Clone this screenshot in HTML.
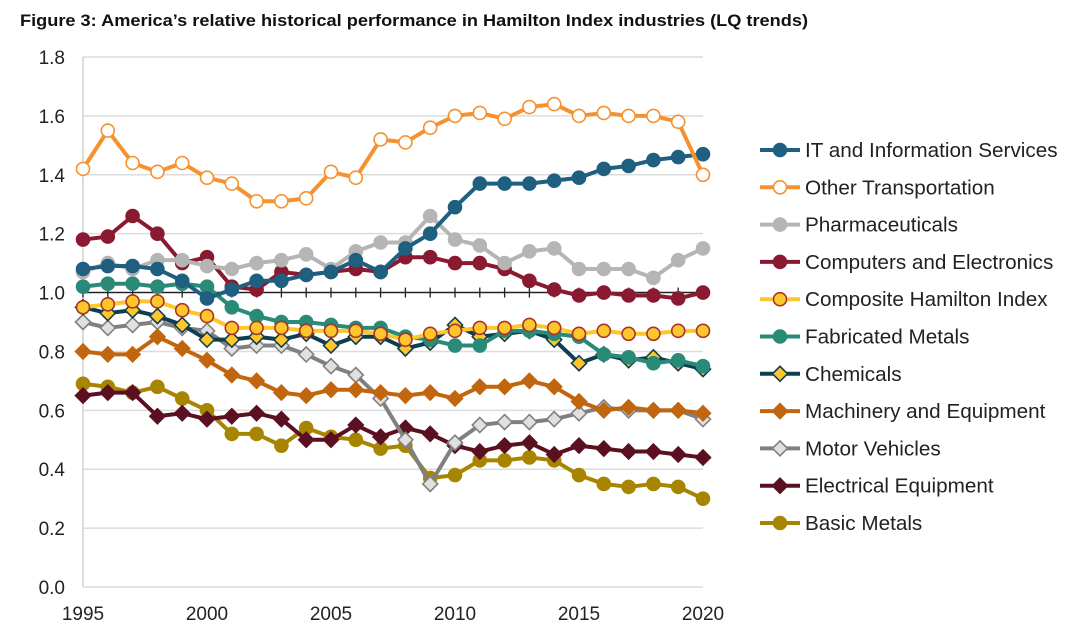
<!DOCTYPE html>
<html><head><meta charset="utf-8"><style>
html,body{margin:0;padding:0;background:#fff;width:1080px;height:632px;overflow:hidden}
svg{display:block;font-family:"Liberation Sans",sans-serif}
</style></head><body>
<svg id="chart" width="1080" height="632">
<text x="20" y="26" font-family="'Liberation Sans Narrow','Liberation Sans',sans-serif" font-weight="bold" font-size="17" textLength="788" lengthAdjust="spacingAndGlyphs" fill="#111">Figure 3: America’s relative historical performance in Hamilton Index industries (LQ trends)</text>
<g id="grid"></g><g id="axes"></g><g id="series"></g><g id="legend"></g>
</svg>
<script>
const years=[1995,1996,1997,1998,1999,2000,2001,2002,2003,2004,2005,2006,2007,2008,2009,2010,2011,2012,2013,2014,2015,2016,2017,2018,2019,2020];
const yTicks=[0,0.2,0.4,0.6,0.8,1.0,1.2,1.4,1.6,1.8];
const xTickLabels=[1995,2000,2005,2010,2015,2020];
const seriesNames=["IT and Information Services","Other Transportation","Pharmaceuticals","Computers and Electronics","Composite Hamilton Index","Fabricated Metals","Chemicals","Machinery and Equipment","Motor Vehicles","Electrical Equipment","Basic Metals"];
const itInfo=[1.08,1.09,1.09,1.08,1.04,0.98,1.01,1.04,1.04,1.06,1.07,1.11,1.07,1.15,1.20,1.29,1.37,1.37,1.37,1.38,1.39,1.42,1.43,1.45,1.46,1.47];
const otherTransport=[1.42,1.55,1.44,1.41,1.44,1.39,1.37,1.31,1.31,1.32,1.41,1.39,1.52,1.51,1.56,1.60,1.61,1.59,1.63,1.64,1.60,1.61,1.60,1.60,1.58,1.40];
const pharma=[1.07,1.10,1.08,1.11,1.11,1.09,1.08,1.10,1.11,1.13,1.08,1.14,1.17,1.17,1.26,1.18,1.16,1.10,1.14,1.15,1.08,1.08,1.08,1.05,1.11,1.15];
const computers=[1.18,1.19,1.26,1.20,1.10,1.12,1.02,1.01,1.07,1.06,1.07,1.08,1.07,1.12,1.12,1.10,1.10,1.08,1.04,1.01,0.99,1.00,0.99,0.99,0.98,1.00];
const composite=[0.95,0.96,0.97,0.97,0.94,0.92,0.88,0.88,0.88,0.87,0.87,0.87,0.86,0.84,0.86,0.87,0.88,0.88,0.89,0.88,0.86,0.87,0.86,0.86,0.87,0.87];
const fabricated=[1.02,1.03,1.03,1.02,1.03,1.02,0.95,0.92,0.90,0.90,0.89,0.88,0.88,0.85,0.84,0.82,0.82,0.87,0.87,0.86,0.85,0.79,0.78,0.76,0.77,0.75];
const chemicals=[0.95,0.93,0.94,0.92,0.89,0.84,0.84,0.85,0.84,0.86,0.82,0.85,0.85,0.81,0.83,0.89,0.85,0.86,0.87,0.84,0.76,0.79,0.77,0.78,0.76,0.74];
const machinery=[0.80,0.79,0.79,0.85,0.81,0.77,0.72,0.70,0.66,0.65,0.67,0.67,0.66,0.65,0.66,0.64,0.68,0.68,0.70,0.68,0.63,0.60,0.61,0.60,0.60,0.59];
const motorVehicles=[0.90,0.88,0.89,0.90,0.88,0.87,0.81,0.82,0.82,0.79,0.75,0.72,0.64,0.50,0.35,0.49,0.55,0.56,0.56,0.57,0.59,0.61,0.60,0.60,0.60,0.57];
const electrical=[0.65,0.66,0.66,0.58,0.59,0.57,0.58,0.59,0.57,0.50,0.50,0.55,0.51,0.54,0.52,0.48,0.46,0.48,0.49,0.45,0.48,0.47,0.46,0.46,0.45,0.44];
const basicMetals=[0.69,0.68,0.66,0.68,0.64,0.60,0.52,0.52,0.48,0.54,0.51,0.50,0.47,0.48,0.37,0.38,0.43,0.43,0.44,0.43,0.38,0.35,0.34,0.35,0.34,0.30];

const NS="http://www.w3.org/2000/svg";
const X0=83,X1=703,Y0=587,Y1=57;
const xs=y=>X0+(y-1995)*(X1-X0)/25;
const ys=v=>Y0-v*(Y0-Y1)/1.8;
function mk(tag,attrs,parent){const e=document.createElementNS(NS,tag);for(const k in attrs)e.setAttribute(k,attrs[k]);parent.appendChild(e);return e;}
const grid=document.getElementById('grid'),axes=document.getElementById('axes'),ser=document.getElementById('series'),leg=document.getElementById('legend');

yTicks.forEach(t=>{
  if(t!==1.0&&t!==0){const g=mk('line',{x1:X0,x2:X1,y1:ys(t),y2:ys(t),stroke:'#dcdcdc','stroke-width':1.5},grid);
  
  }
  const l=mk('text',{x:65,y:ys(t)+7,'text-anchor':'end','font-size':19,fill:'#222'},axes);l.textContent=t.toFixed(1);
  
  
});
const bl=mk('line',{x1:X0,x2:X1,y1:Y0,y2:Y0,stroke:'#dcdcdc','stroke-width':1.5},grid);


const va=mk('line',{x1:X0,x2:X0,y1:Y1,y2:Y0,stroke:'#d0d0d0','stroke-width':1.5},grid);


const xa=mk('line',{x1:X0,x2:X1,y1:ys(1.0),y2:ys(1.0),stroke:'#222','stroke-width':1.5},axes);


years.forEach(y=>{const t=mk('line',{x1:xs(y),x2:xs(y),y1:ys(1.0)-5,y2:ys(1.0)+5,stroke:'#222','stroke-width':1.3},axes);
  
  });
xTickLabels.forEach(y=>{const l=mk('text',{x:xs(y),y:620,'text-anchor':'middle','font-size':19,fill:'#222'},axes);l.textContent=y;
  
  });

const styles=[
 {d:itInfo,c:'#1f5f80',m:'circle',f:'#1f5f80',s:'#1f5f80'},
 {d:otherTransport,c:'#f5922f',m:'circle',f:'#fff',s:'#f5922f'},
 {d:pharma,c:'#b5b5b5',m:'circle',f:'#b5b5b5',s:'#b5b5b5'},
 {d:computers,c:'#8a1a31',m:'circle',f:'#8a1a31',s:'#8a1a31'},
 {d:composite,c:'#fdc72c',m:'circle',f:'#fdc72c',s:'#a6342a'},
 {d:fabricated,c:'#2a8a78',m:'circle',f:'#2a8a78',s:'#2a8a78'},
 {d:chemicals,c:'#0f3e50',m:'diamond',f:'#fdc72c',s:'#0f3e50'},
 {d:machinery,c:'#c1650f',m:'diamond',f:'#c1650f',s:'#c1650f'},
 {d:motorVehicles,c:'#808080',m:'diamond',f:'#e0e0e0',s:'#808080'},
 {d:electrical,c:'#5a1020',m:'diamond',f:'#5a1020',s:'#5a1020'},
 {d:basicMetals,c:'#a88500',m:'circle',f:'#a88500',s:'#a88500'}
];
function marker(x,y,st,parent){
  if(st.m==='circle'){return mk('circle',{cx:x,cy:y,r:6.5,fill:st.f,stroke:st.s,'stroke-width':1.6},parent);}
  return mk('path',{d:`M${x},${y-7.5}L${x+7.5},${y}L${x},${y+7.5}L${x-7.5},${y}Z`,fill:st.f,stroke:st.s,'stroke-width':1.6},parent);
}
const order=[10,9,8,7,6,5,4,3,2,0,1];
order.forEach(i=>{const st=styles[i];
  const g=mk('g',{},ser);
  
  
  const p=mk('polyline',{points:st.d.map((v,k)=>xs(years[k])+','+ys(v)).join(' '),fill:'none',stroke:st.c,'stroke-width':4,'stroke-linejoin':'round'},g);
  
  
  st.d.forEach((v,k)=>{const m=marker(xs(years[k]),ys(v),st,g);
    
    });
});
seriesNames.forEach((n,i)=>{const st=styles[i];const y=150+i*37.3;
  const g=mk('g',{},leg);
  
  
  mk('line',{x1:760,x2:800,y1:y,y2:y,stroke:st.c,'stroke-width':4},g);
  marker(780,y,st,g);
  const t=mk('text',{x:805,y:y+7,'font-size':20.7,fill:'#222'},g);t.textContent=n;
});
</script>
</body></html>
